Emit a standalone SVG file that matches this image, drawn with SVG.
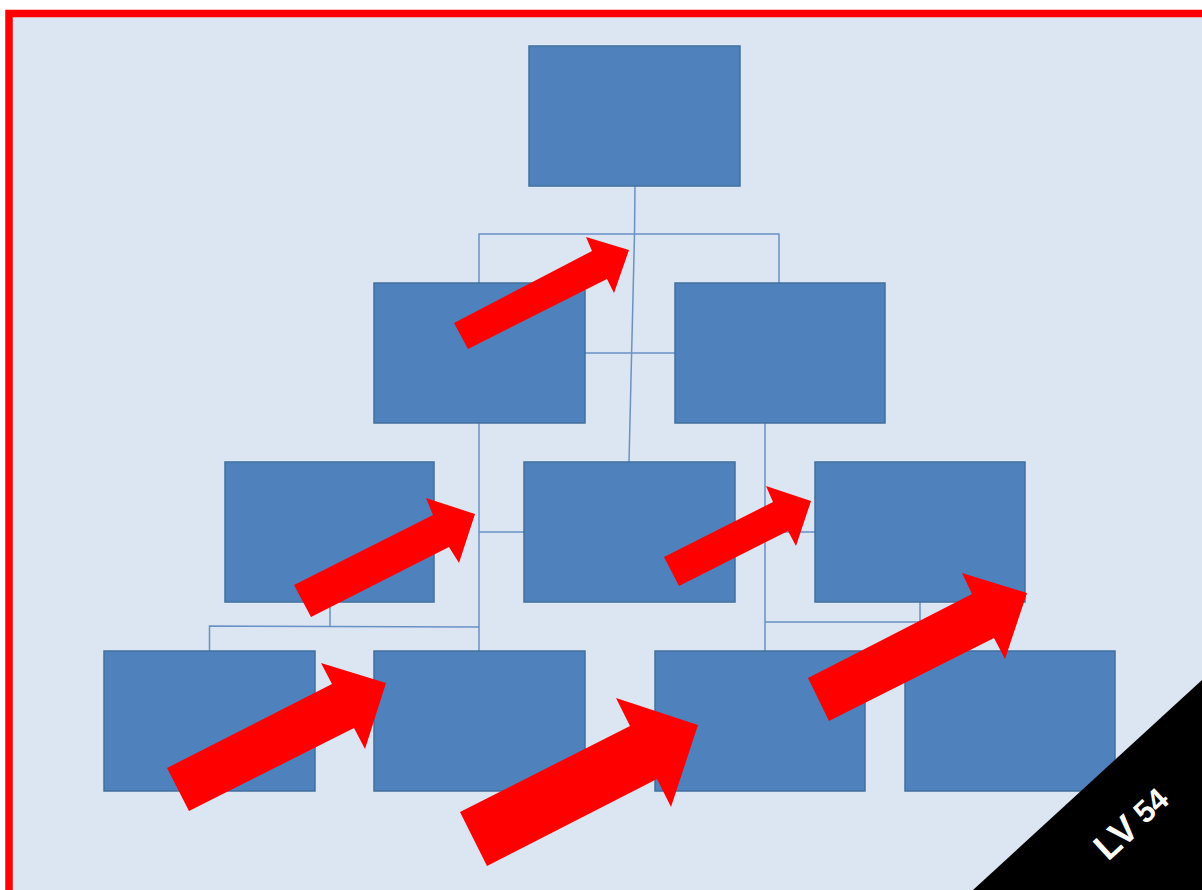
<svg xmlns="http://www.w3.org/2000/svg" width="1202" height="890" viewBox="0 0 1202 890">
<defs>
<style>
.box{fill:#4F81BD;stroke:#41709F;stroke-width:1.5}
.conn{fill:none;stroke:#6A91C6;stroke-width:1.5}
.arrow{fill:#FF0000}
.lbl{fill:#FFFFFF;font-family:"Liberation Sans",Arial,sans-serif;font-weight:bold}
</style>
</defs>
<rect x="0" y="0" width="1202" height="890" fill="#FFFFFF"/>
<rect x="9" y="13.5" width="1210" height="900" fill="#DCE6F2" stroke="#FF0000" stroke-width="7.5"/>
<g id="connectors">
<polyline class="conn" points="635,186 634.5,234 629,462"/>
<polyline class="conn" points="479,283 479,234 779,234 779,283"/>
<line class="conn" x1="585" y1="353" x2="675" y2="353"/>
<line class="conn" x1="479" y1="423" x2="479" y2="651"/>
<line class="conn" x1="479" y1="532" x2="524" y2="532"/>
<polyline class="conn" points="209.5,651 209.5,626 479,627"/>
<line class="conn" x1="330" y1="602" x2="330" y2="627"/>
<line class="conn" x1="765" y1="423" x2="765" y2="651"/>
<line class="conn" x1="765" y1="532" x2="815" y2="532"/>
<polyline class="conn" points="765,622 920,622 920,602"/>
</g>
<g id="n0"><rect class="box" x="529" y="46" width="211" height="140"/></g>
<g id="n1"><rect class="box" x="374" y="283" width="211" height="140"/></g>
<g id="n2"><rect class="box" x="675" y="283" width="210" height="140"/></g>
<g id="n3"><rect class="box" x="225" y="462" width="209" height="140"/></g>
<g id="n4"><rect class="box" x="524" y="462" width="211" height="140"/></g>
<g id="n5"><rect class="box" x="815" y="462" width="210" height="140"/></g>
<g id="n6"><rect class="box" x="104" y="651" width="211" height="140"/></g>
<g id="n7"><rect class="box" x="374" y="651" width="211" height="140"/></g>
<g id="n8"><rect class="box" x="655" y="651" width="210" height="140"/></g>
<g id="n9"><rect class="box" x="905" y="651" width="210" height="140"/></g>
<g id="arrows">
<polygon class="arrow" points="454,323 592,251 586,237 629,250 614,293 607,279 468,349"/>
<polygon class="arrow" points="294,585 433,515 426,498 475,514 459,563 449,547 311,617"/>
<polygon class="arrow" points="664,557 773,502 766,486 811,501 796,546 788,531 679,586"/>
<polygon class="arrow" points="808,678 972,594 962,573 1027,593 1005,659 994,638 829,721"/>
<polygon class="arrow" points="167,768 332,684 321,663 386,683 365,749 354,728 189,811"/>
<polygon class="arrow" points="460,812 630,726 616,698 698,725 671,807 657,779 487,866"/>
</g>
<g id="badge">
<polygon points="1202,680 1202,890 973,890" fill="#000000"/>
<text class="lbl" transform="translate(1108,862) rotate(-42.5)" font-size="37">LV<tspan font-size="31" dx="8" dy="-2">54</tspan></text>
</g>
</svg>
